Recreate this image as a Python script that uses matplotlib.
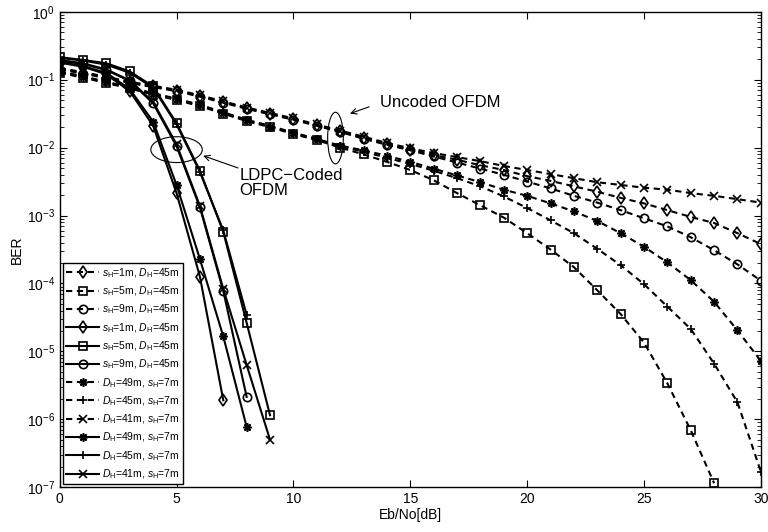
import matplotlib
matplotlib.use("Agg")
import matplotlib.pyplot as plt
from matplotlib.patches import Ellipse

plt.rcParams['font.family'] = ['Liberation Sans', 'DejaVu Sans']
plt.rcParams['mathtext.fontset'] = 'custom'
plt.rcParams['mathtext.rm'] = 'Liberation Sans'
plt.rcParams['mathtext.it'] = 'Liberation Sans:italic'

# === 데이터 (Eb/No [dB] vs BER) ===
snr_unc = list(range(0, 31))
snr_unc_s5 = list(range(0, 29))

# uncoded OFDM, D_H = 45m
unc_s1 = [1.45e-1, 1.26e-1, 1.07e-1, 9.12e-2, 7.94e-2, 6.92e-2, 5.75e-2, 4.68e-2, 3.80e-2, 3.16e-2,
          2.63e-2, 2.14e-2, 1.74e-2, 1.38e-2, 1.12e-2, 9.33e-3, 7.76e-3, 6.61e-3, 5.50e-3, 4.68e-3,
          3.80e-3, 3.24e-3, 2.69e-3, 2.24e-3, 1.82e-3, 1.51e-3, 1.20e-3, 9.55e-4, 7.76e-4, 5.50e-4, 3.80e-4]
unc_s5 = [1.26e-1, 1.07e-1, 8.91e-2, 7.41e-2, 6.03e-2, 5.01e-2, 4.07e-2, 3.16e-2, 2.45e-2, 2.00e-2,
          1.58e-2, 1.29e-2, 1.00e-2, 7.94e-3, 6.17e-3, 4.68e-3, 3.31e-3, 2.14e-3, 1.41e-3, 9.33e-4,
          5.50e-4, 3.16e-4, 1.74e-4, 7.94e-5, 3.55e-5, 1.35e-5, 3.39e-6, 6.92e-7, 1.15e-7]
unc_s9 = [1.41e-1, 1.23e-1, 1.05e-1, 8.91e-2, 7.76e-2, 6.76e-2, 5.62e-2, 4.57e-2, 3.72e-2, 3.09e-2,
          2.57e-2, 2.09e-2, 1.70e-2, 1.35e-2, 1.10e-2, 9.12e-3, 7.41e-3, 6.03e-3, 4.90e-3, 3.98e-3,
          3.16e-3, 2.51e-3, 1.95e-3, 1.55e-3, 1.20e-3, 9.12e-4, 6.92e-4, 4.79e-4, 3.09e-4, 1.91e-4, 1.10e-4]
# uncoded OFDM, s_H = 7m
unc_d49 = [1.29e-1, 1.10e-1, 9.12e-2, 7.59e-2, 6.17e-2, 5.13e-2, 4.17e-2, 3.24e-2, 2.51e-2, 2.04e-2,
           1.62e-2, 1.32e-2, 1.07e-2, 9.12e-3, 7.59e-3, 6.17e-3, 4.90e-3, 3.89e-3, 3.09e-3, 2.40e-3,
           1.95e-3, 1.51e-3, 1.15e-3, 8.32e-4, 5.50e-4, 3.47e-4, 2.04e-4, 1.12e-4, 5.37e-5, 2.04e-5, 7.24e-6]
unc_d45 = [1.32e-1, 1.12e-1, 9.33e-2, 7.76e-2, 6.31e-2, 5.25e-2, 4.27e-2, 3.31e-2, 2.57e-2, 2.09e-2,
           1.66e-2, 1.35e-2, 1.05e-2, 8.71e-3, 7.08e-3, 5.75e-3, 4.57e-3, 3.55e-3, 2.69e-3, 1.91e-3,
           1.29e-3, 8.51e-4, 5.50e-4, 3.24e-4, 1.86e-4, 9.77e-5, 4.57e-5, 2.14e-5, 6.61e-6, 1.78e-6, 1.70e-7]
unc_d41 = [1.48e-1, 1.29e-1, 1.10e-1, 9.33e-2, 8.13e-2, 7.08e-2, 5.89e-2, 4.79e-2, 3.89e-2, 3.24e-2,
           2.69e-2, 2.19e-2, 1.78e-2, 1.45e-2, 1.17e-2, 9.77e-3, 8.32e-3, 7.24e-3, 6.31e-3, 5.37e-3,
           4.68e-3, 4.07e-3, 3.55e-3, 3.09e-3, 2.82e-3, 2.57e-3, 2.40e-3, 2.14e-3, 1.95e-3, 1.74e-3, 1.55e-3]

# LDPC-coded OFDM
cod_s1 = [1.78e-1, 1.55e-1, 1.20e-1, 6.76e-2, 2.09e-2, 2.14e-3, 1.26e-4, 1.91e-6]
cod_s5 = [2.14e-1, 1.95e-1, 1.74e-1, 1.32e-1, 7.94e-2, 2.29e-2, 4.57e-3, 5.75e-4, 2.63e-5, 1.15e-6]
cod_s9 = [1.91e-1, 1.70e-1, 1.38e-1, 9.55e-2, 4.47e-2, 1.05e-2, 1.32e-3, 7.76e-5, 2.14e-6]
cod_d49 = [1.82e-1, 1.58e-1, 1.26e-1, 7.24e-2, 2.40e-2, 2.82e-3, 2.29e-4, 1.66e-5, 7.76e-7]
cod_d45 = [2.09e-1, 1.91e-1, 1.66e-1, 1.26e-1, 7.59e-2, 2.19e-2, 4.37e-3, 6.03e-4, 3.47e-5]
cod_d41 = [1.95e-1, 1.74e-1, 1.41e-1, 9.77e-2, 4.68e-2, 1.12e-2, 1.38e-3, 8.32e-5, 6.31e-6, 5.01e-7]

labels = [r'$s_{\rm H}$=1m, $D_{\rm H}$=45m', r'$s_{\rm H}$=5m, $D_{\rm H}$=45m', r'$s_{\rm H}$=9m, $D_{\rm H}$=45m',
          r'$D_{\rm H}$=49m, $s_{\rm H}$=7m', r'$D_{\rm H}$=45m, $s_{\rm H}$=7m', r'$D_{\rm H}$=41m, $s_{\rm H}$=7m']

# === 그리기 ===
fig = plt.figure(figsize=(7.68, 5.32), dpi=100)
ax = fig.add_axes([0.0777, 0.084, 0.913, 0.894])

dash = dict(ls='--', dashes=(3, 2.2), lw=1.5, color='k', mfc='none', mec='k', ms=6, mew=1.2)
solid = dict(ls='-', lw=1.5, color='k', mfc='none', mec='k', ms=6, mew=1.2)
star = (8, 2, 0)

ax.semilogy(snr_unc, unc_s1, marker='d', label=labels[0], **dash)
ax.semilogy(snr_unc_s5, unc_s5, marker='s', label=labels[1], **dash)
ax.semilogy(snr_unc, unc_s9, marker='o', label=labels[2], **dash)
ax.semilogy(range(len(cod_s1)), cod_s1, marker='d', label=labels[0], **solid)
ax.semilogy(range(len(cod_s5)), cod_s5, marker='s', label=labels[1], **solid)
ax.semilogy(range(len(cod_s9)), cod_s9, marker='o', label=labels[2], **solid)
ax.semilogy(snr_unc, unc_d49, marker=star, label=labels[3], **dash)
ax.semilogy(snr_unc, unc_d45, marker='+', label=labels[4], **dash)
ax.semilogy(snr_unc, unc_d41, marker='x', label=labels[5], **dash)
ax.semilogy(range(len(cod_d49)), cod_d49, marker=star, label=labels[3], **solid)
ax.semilogy(range(len(cod_d45)), cod_d45, marker='+', label=labels[4], **solid)
ax.semilogy(range(len(cod_d41)), cod_d41, marker='x', label=labels[5], **solid)

ax.set_xlim(0, 30)
ax.set_ylim(1e-7, 1e0)
ax.set_xticks([0, 5, 10, 15, 20, 25, 30])
ax.tick_params(which='both', direction='in', top=True, right=True, labelsize=10)
ax.tick_params(which='major', length=5)
ax.tick_params(which='minor', length=3)
for s in ax.spines.values():
    s.set_linewidth(1.0)
ax.set_xlabel('Eb/No[dB]', fontsize=10, labelpad=1)
ax.set_ylabel('BER', fontsize=10, labelpad=2)

# 주석 (타원 + 화살표), 타원은 axes 좌표로
ax.add_patch(Ellipse((5.0 / 30, 1 - 2.03 / 7), 2.2 / 30, 0.38 / 7, transform=ax.transAxes,
                     fill=False, lw=0.8, color='k'))
ax.add_patch(Ellipse((11.8 / 30, 1 - 1.86 / 7), 0.67 / 30, 0.76 / 7, transform=ax.transAxes,
                     fill=False, lw=0.8, color='k'))
arrow = dict(arrowstyle='->', lw=0.8, color='k', shrinkA=0, shrinkB=0)
ax.annotate('', xy=(6.14, 10**-2.12), xytext=(7.63, 10**-2.30), arrowprops=arrow)
ax.text(7.7, 10**-2.52, 'LDPC\u2212Coded\nOFDM', fontsize=12, ha='left', va='center', linespacing=1.0)
ax.annotate('', xy=(12.42, 10**-1.50), xytext=(13.24, 10**-1.40), arrowprops=arrow)
ax.text(13.7, 10**-1.34, 'Uncoded OFDM', fontsize=12, ha='left', va='center')

leg = ax.legend(loc='lower left', fontsize=7.5, handlelength=3.2, labelspacing=0.45,
                borderaxespad=0.3, borderpad=0.3, handletextpad=0.3, fancybox=False,
                framealpha=1, edgecolor='k')
leg.get_frame().set_linewidth(1.0)

fig.savefig('out.png', dpi=100)
